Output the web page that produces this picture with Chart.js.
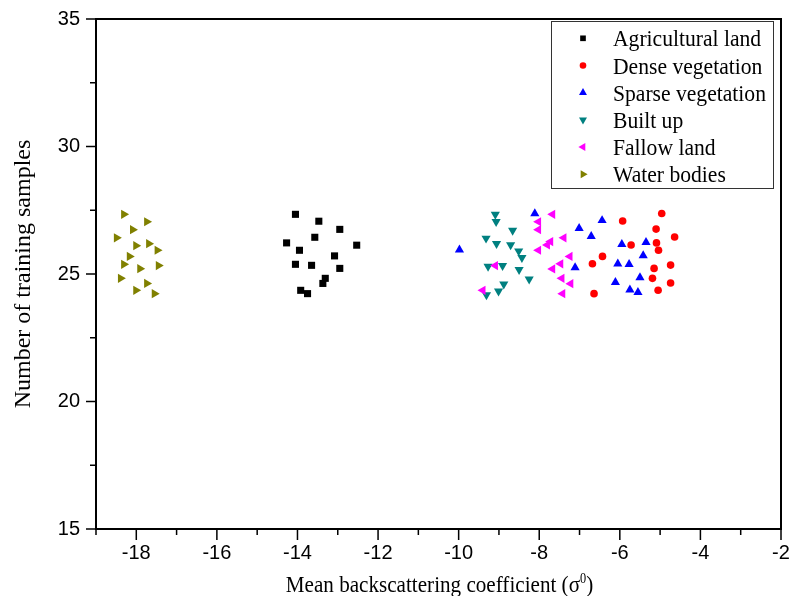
<!DOCTYPE html>
<html>
<head>
<meta charset="utf-8">
<script src="https://cdn.jsdelivr.net/npm/chart.js@4.4.1/dist/chart.umd.min.js"></script>
<style>
  html, body { margin: 0; padding: 0; background: #fff; }
</style>
</head>
<body>
<canvas id="chart" width="790" height="596"></canvas>
<script>
// Tick values
const xTickLabels = [-18, -16, -14, -12, -10, -8, -6, -4, -2];
const xMinorTicks = [-19, -17, -15, -13, -11, -9, -7, -5, -3];
const yTickLabels = [15, 20, 25, 30, 35];
const yMinorTicks = [17.5, 22.5, 27.5, 32.5];

// Class names (legend order)
const classNames = ['Agricultural land', 'Dense vegetation', 'Sparse vegetation', 'Built up', 'Fallow land', 'Water bodies'];

// Values
const agriX = [-14.05, -13.47, -12.95, -13.57, -14.27, -12.53, -13.95, -13.08, -14.05, -13.65, -12.95, -13.31, -13.37, -13.92, -13.75];
const agriY = [27.34, 27.07, 26.75, 26.44, 26.22, 26.13, 25.93, 25.71, 25.38, 25.34, 25.22, 24.83, 24.63, 24.36, 24.23];

const denseX = [-4.96, -5.93, -5.10, -4.64, -5.72, -5.09, -5.04, -6.43, -6.68, -4.74, -5.15, -5.19, -4.74, -5.05, -6.64];
const denseY = [27.37, 27.08, 26.76, 26.45, 26.14, 26.22, 25.93, 25.69, 25.40, 25.35, 25.22, 24.83, 24.65, 24.36, 24.23];

const sparseX = [-8.11, -6.44, -7.01, -6.71, -9.98, -5.95, -5.35, -5.42, -7.11, -6.05, -5.77, -5.50, -6.11, -5.75, -5.55];
const sparseY = [27.37, 27.10, 26.79, 26.48, 25.95, 26.16, 26.24, 25.72, 25.25, 25.40, 25.38, 24.86, 24.67, 24.38, 24.28];

const builtX = [-9.09, -9.07, -8.66, -9.32, -9.06, -8.71, -8.51, -8.43, -9.27, -8.91, -8.50, -8.25, -8.88, -9.01, -9.31];
const builtY = [27.34, 27.05, 26.71, 26.40, 26.19, 26.14, 25.90, 25.64, 25.30, 25.33, 25.17, 24.80, 24.60, 24.33, 24.18];

const fallowX = [-7.67, -8.02, -8.02, -7.39, -7.72, -7.80, -8.02, -7.24, -7.47, -9.09, -7.67, -7.44, -7.22, -9.40, -7.42];
const fallowY = [27.34, 27.05, 26.74, 26.42, 26.27, 26.14, 25.93, 25.69, 25.40, 25.33, 25.20, 24.83, 24.62, 24.36, 24.23];

const waterX = [-18.31, -17.74, -18.09, -18.49, -18.01, -17.69, -17.48, -18.17, -18.31, -17.91, -17.45, -18.39, -17.74, -18.01, -17.55];
const waterY = [27.34, 27.05, 26.74, 26.42, 26.11, 26.19, 25.93, 25.69, 25.38, 25.21, 25.33, 24.83, 24.63, 24.36, 24.23];

const seriesX = [agriX, denseX, sparseX, builtX, fallowX, waterX];
const seriesY = [agriY, denseY, sparseY, builtY, fallowY, waterY];

// Marker styles
const colors = ['#000000', '#ff0000', '#0000ff', '#008080', '#ff00ff', '#808000'];
const styles = ['rect', 'circle', 'triangle', 'triangle', 'triangle', 'triangle'];
const rotations = [0, 0, 0, 180, -90, 90];
const radii = [5, 3.8, 5.3, 5.3, 5.3, 5.3];
const legendRadii = [4, 3.3, 4.6, 4.6, 4.6, 4.6];

const serif = '"Liberation Serif", "Times New Roman", serif';
const squeeze = 0.88;

const datasets = classNames.map((name, i) => ({
  label: name,
  data: seriesX[i].map((x, k) => ({ x: x, y: seriesY[i][k] })),
  pointStyle: styles[i],
  rotation: rotations[i],
  pointRadius: radii[i],
  pointHoverRadius: radii[i],
  backgroundColor: colors[i],
  borderColor: colors[i],
  pointBorderWidth: 0,
  order: 6 - i
}));

function drawMarker(ctx, i, x, y, r) {
  Chart.helpers.drawPoint(ctx, {
    pointStyle: styles[i], rotation: rotations[i], radius: r, borderWidth: 0
  }, x, y);
}

// Frame, ticks, titles and legend drawn on top of the chart
const decorPlugin = {
  id: 'decor',
  afterDraw(chart) {
    const { ctx, chartArea: a, scales: { x, y } } = chart;
    ctx.save();
    ctx.strokeStyle = '#000';
    ctx.lineWidth = 2;
    ctx.strokeRect(a.left, a.top, a.right - a.left, a.bottom - a.top);

    ctx.lineWidth = 1.5;
    ctx.beginPath();
    xTickLabels.forEach(v => {
      const p = x.getPixelForValue(v);
      ctx.moveTo(p, a.bottom); ctx.lineTo(p, a.bottom + 11);
    });
    xMinorTicks.forEach(v => {
      const p = x.getPixelForValue(v);
      ctx.moveTo(p, a.bottom); ctx.lineTo(p, a.bottom + 6);
    });
    yTickLabels.forEach(v => {
      const p = y.getPixelForValue(v);
      ctx.moveTo(a.left, p); ctx.lineTo(a.left - 10, p);
    });
    yMinorTicks.forEach(v => {
      const p = y.getPixelForValue(v);
      ctx.moveTo(a.left, p); ctx.lineTo(a.left - 6, p);
    });
    ctx.stroke();

    // x axis title with superscript
    ctx.fillStyle = '#000';
    ctx.textBaseline = 'alphabetic';
    const main = 'Mean backscattering coefficient (\u03c3';
    ctx.font = '24px ' + serif;
    const w1 = ctx.measureText(main).width;
    const w3 = ctx.measureText(')').width;
    ctx.font = '14px ' + serif;
    const w2 = ctx.measureText('0').width;
    const total = (w1 + w2 + w3) * squeeze;
    const cx = (a.left + a.right) / 2 + 1;
    ctx.save();
    ctx.translate(cx - total / 2, 592);
    ctx.scale(squeeze, 1);
    ctx.font = '24px ' + serif;
    ctx.fillText(main, 0, 0);
    ctx.font = '14px ' + serif;
    ctx.fillText('0', w1, -9);
    ctx.font = '24px ' + serif;
    ctx.fillText(')', w1 + w2, 0);
    ctx.restore();

    // y axis title
    ctx.save();
    ctx.translate(30, (a.top + a.bottom) / 2);
    ctx.rotate(-Math.PI / 2);
    ctx.font = '24px ' + serif;
    ctx.textAlign = 'center';
    ctx.fillText('Number of training samples', 0, 0);
    ctx.restore();

    // legend
    ctx.lineWidth = 1;
    ctx.strokeStyle = '#333';
    ctx.strokeRect(551.5, 21.5, 222, 167);
    classNames.forEach((name, i) => {
      const ry = 38.3 + i * 27.2;
      ctx.fillStyle = colors[i];
      drawMarker(ctx, i, 583, ry, legendRadii[i]);
      ctx.fillStyle = '#000';
      ctx.save();
      ctx.translate(613, ry + 8);
      ctx.scale(squeeze + 0.02, 1);
      ctx.font = '24px ' + serif;
      ctx.textAlign = 'left';
      ctx.fillText(name, 0, 0);
      ctx.restore();
    });
    ctx.restore();
  }
};

new Chart(document.getElementById('chart'), {
  type: 'scatter',
  data: { datasets: datasets },
  options: {
    responsive: false,
    animation: false,
    events: [],
    layout: { padding: { top: 19, right: 9, left: 0, bottom: 0 } },
    plugins: { legend: { display: false }, tooltip: { enabled: false } },
    scales: {
      x: {
        type: 'linear',
        min: -19, max: -2,
        afterBuildTicks: s => { s.ticks = xTickLabels.map(v => ({ value: v })); },
        afterFit: s => { s.height = 67; s.paddingLeft = 0; s.paddingRight = 0; },
        grid: { display: false, drawTicks: false },
        border: { display: false },
        ticks: {
          autoSkip: false, maxRotation: 0, padding: 12, color: '#000',
          font: { family: '"Liberation Sans", Arial, sans-serif', size: 20 }
        }
      },
      y: {
        type: 'linear',
        min: 15, max: 35,
        afterBuildTicks: s => { s.ticks = yTickLabels.map(v => ({ value: v })); },
        afterFit: s => { s.width = 96; s.paddingTop = 0; s.paddingBottom = 0; },
        grid: { display: false, drawTicks: false },
        border: { display: false },
        ticks: {
          autoSkip: false, padding: 16, color: '#000',
          font: { family: '"Liberation Sans", Arial, sans-serif', size: 20 }
        }
      }
    }
  },
  plugins: [decorPlugin]
});
</script>
</body>
</html>
